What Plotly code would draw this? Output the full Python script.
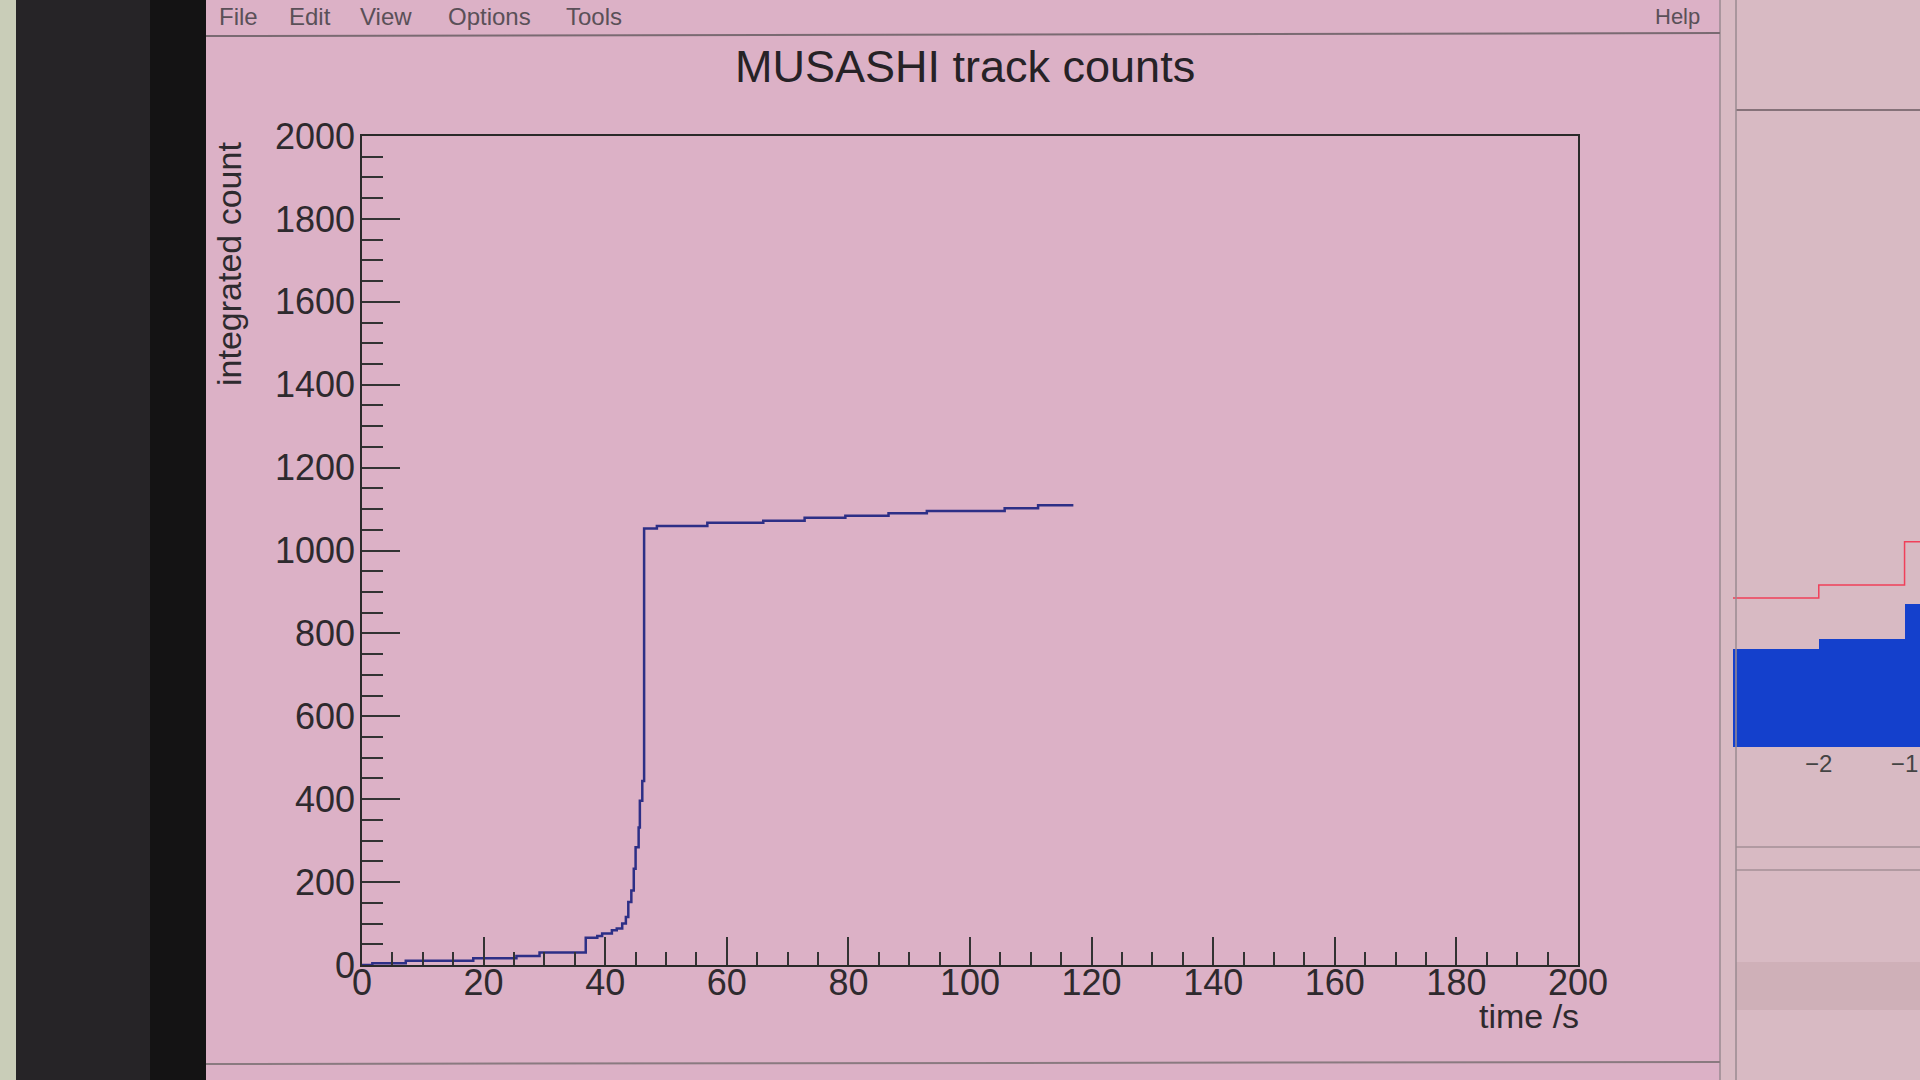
import plotly.graph_objects as go

# ---- main chart data ----
time_s = [0, 1.7, 7.2, 18.3, 25.4, 29.2, 36.8, 38.7, 39.5, 41.1, 41.9, 42.8, 43.4,
          43.8, 44.3, 44.7, 45.0, 45.5, 45.7, 46.1, 46.4, 48.5, 56.8, 66.0, 72.8,
          79.5, 86.6, 92.9, 105.7, 111.2, 117.0]
integrated_count = [0, 4, 10, 16, 22, 30, 66, 70, 76, 84, 88, 100, 116,
                    152, 180, 232, 284, 332, 396, 444, 1053, 1059, 1067, 1072, 1079,
                    1084, 1090, 1095, 1102, 1109, 1109]
x_ticks = [0, 20, 40, 60, 80, 100, 120, 140, 160, 180, 200]
y_ticks = [0, 200, 400, 600, 800, 1000, 1200, 1400, 1600, 1800, 2000]

# ---- partially visible neighbour histogram (right edge) ----
side_bin_edges = [-3, -2, -1, -0.5]
side_filled = [9.1, 10.0, 13.2]
side_outline = [13.8, 15.0, 19.0]
side_ticks = [-2, -1]

FONT = "Liberation Sans"
TXT = "#2e2a2e"
BG = "#dcb1c6"
PANEL = "#d8bac3"

fig = go.Figure()

# main step curve
fig.add_trace(go.Scatter(
    x=time_s, y=integrated_count, mode="lines", line_shape="hv",
    line=dict(color="#2d2f86", width=2.5), showlegend=False, hoverinfo="x+y",
    xaxis="x", yaxis="y"))

# neighbour histogram: filled bars + outline
sx = [(side_bin_edges[i] + side_bin_edges[i + 1]) / 2 for i in range(len(side_filled))]
widths = [side_bin_edges[i + 1] - side_bin_edges[i] for i in range(len(side_filled))]
fig.add_trace(go.Bar(x=sx, y=side_filled, width=widths, marker=dict(color="#1440cc", line_width=0),
                     showlegend=False, xaxis="x2", yaxis="y2"))
fig.add_trace(go.Scatter(x=side_bin_edges, y=side_outline + [side_outline[-1]],
                         mode="lines", line_shape="hv",
                         line=dict(color="#f0405a", width=1.5), showlegend=False,
                         xaxis="x2", yaxis="y2"))

W, H = 1920, 1080
def px(x):
    return x / W
def py(y):
    return 1 - y / H

fig.update_layout(
    width=W, height=H, autosize=False,
    margin=dict(l=0, r=0, t=0, b=0, pad=0, autoexpand=False),
    paper_bgcolor=BG, plot_bgcolor="rgba(0,0,0,0)",
    font=dict(family=FONT, color=TXT),
    bargap=0,
    xaxis=dict(
        domain=[px(362), px(1578)], range=[0, 200], tickvals=x_ticks,
        ticks="inside", ticklen=28, tickwidth=1.5, tickcolor="#333",
        minor=dict(dtick=5, ticks="inside", ticklen=13, tickwidth=1.5, tickcolor="#333"),
        showgrid=False, zeroline=False, showline=True, linecolor="#2a2a2a", linewidth=1.5,
        mirror=True, automargin=False, ticklabelstandoff=-15,
        tickfont=dict(family=FONT, size=36, color=TXT), anchor="y"),
    yaxis=dict(
        domain=[py(965), py(136)], range=[0, 2000], tickvals=y_ticks,
        ticks="inside", ticklen=38, tickwidth=1.5, tickcolor="#333",
        minor=dict(dtick=50, ticks="inside", ticklen=21, tickwidth=1.5, tickcolor="#333"),
        showgrid=False, zeroline=False, showline=True, linecolor="#2a2a2a", linewidth=1.5,
        mirror=True, automargin=False, ticklabelstandoff=-2,
        tickfont=dict(family=FONT, size=36, color=TXT), anchor="x"),
    xaxis2=dict(
        domain=[px(1733), 1.0], range=[-3, -0.82], tickvals=side_ticks,
        ticktext=["\u22122", "\u22121"], ticks="", showgrid=False, zeroline=False,
        showline=False, automargin=False,
        tickfont=dict(family=FONT, size=24, color="#444"), anchor="y2"),
    yaxis2=dict(
        domain=[py(747), py(207)], range=[0, 50], showticklabels=False, ticks="",
        showgrid=False, zeroline=False, showline=False, automargin=False, anchor="x2"),
)

shapes = [
    # right neighbour window
    dict(type="rect", xref="paper", yref="paper", x0=px(1720), x1=1, y0=0, y1=1,
         fillcolor=PANEL, line_width=0, layer="below"),
    dict(type="line", xref="paper", yref="paper", x0=px(1736), x1=1, y0=py(110), y1=py(110),
         line=dict(color="#6a5a60", width=1.5)),
    dict(type="line", xref="paper", yref="paper", x0=px(1736), x1=1, y0=py(847), y1=py(847),
         line=dict(color="#8a7a80", width=1)),
    dict(type="line", xref="paper", yref="paper", x0=px(1736), x1=1, y0=py(870), y1=py(870),
         line=dict(color="#8a7a80", width=1)),
    dict(type="rect", xref="paper", yref="paper", x0=px(1736), x1=1, y0=py(1010), y1=py(962),
         fillcolor="#cfb0b8", line_width=0, layer="below"),
    dict(type="line", xref="paper", yref="paper", x0=px(1736), x1=px(1736), y0=0, y1=1,
         line=dict(color="#9a8a90", width=1.5)),
    dict(type="line", xref="paper", yref="paper", x0=px(1720), x1=px(1720), y0=0, y1=1,
         line=dict(color="#9a8a90", width=1.5)),
    # menu bar separator
    dict(type="line", xref="paper", yref="paper", x0=px(206), x1=px(1720), y0=py(36), y1=py(33),
         line=dict(color="#7a6a72", width=2)),
    # status bar
    dict(type="line", xref="paper", yref="paper", x0=px(206), x1=px(1720), y0=py(1064), y1=py(1062),
         line=dict(color="#8a7a80", width=2)),
    # monitor bezel
    dict(type="rect", xref="paper", yref="paper", x0=0, x1=px(206), y0=0, y1=1,
         fillcolor="#262427", line_width=0),
    dict(type="rect", xref="paper", yref="paper", x0=px(150), x1=px(206), y0=0, y1=1,
         fillcolor="#141314", line_width=0),
    dict(type="rect", xref="paper", yref="paper", x0=0, x1=px(16), y0=0, y1=1,
         fillcolor="#c9cdb8", line_width=0),
]
fig.update_layout(shapes=shapes)

menu = [("File", 217), ("Edit", 287), ("View", 358), ("Options", 446), ("Tools", 564)]
anns = [
    dict(text="MUSASHI track counts", x=px(965), y=py(67), xref="paper", yref="paper",
         showarrow=False, xanchor="center", yanchor="middle",
         font=dict(family=FONT, size=45, color="#262226")),
    dict(text="integrated count", x=px(229), y=py(264), xref="paper", yref="paper",
         textangle=-90, showarrow=False, xanchor="center", yanchor="middle",
         font=dict(family=FONT, size=34, color=TXT)),
    dict(text="time /s", x=px(1581), y=py(1016), xref="paper", yref="paper",
         showarrow=False, xanchor="right", yanchor="middle",
         font=dict(family=FONT, size=34, color=TXT)),
    dict(text="Help", x=px(1653), y=py(2), xref="paper", yref="paper",
         showarrow=False, xanchor="left", yanchor="top",
         font=dict(family=FONT, size=22, color="#5a5058")),
]
for label, xpos in menu:
    anns.append(dict(text=label, x=px(xpos), y=py(1), xref="paper", yref="paper",
                     showarrow=False, xanchor="left", yanchor="top",
                     font=dict(family=FONT, size=24, color="#5a5058")))
fig.update_layout(annotations=anns)

fig.write_html("out.html", config={"displayModeBar": False},
               post_script="document.body.style.margin='0';document.body.style.overflow='hidden';")
